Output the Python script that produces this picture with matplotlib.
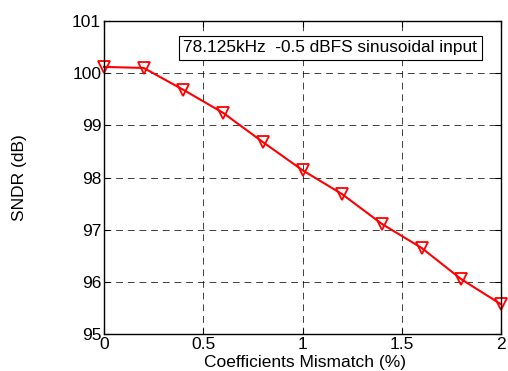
import matplotlib
matplotlib.use('Agg')
import matplotlib.pyplot as plt

plt.rcParams['font.family'] = ['Liberation Sans', 'DejaVu Sans']

# coefficient mismatch (%) and measured SNDR (dB)
mismatch = [0, 0.2, 0.4, 0.6, 0.8, 1.0, 1.2, 1.4, 1.6, 1.8, 2.0]
sndr = [100.12, 100.10, 99.68, 99.24, 98.68, 98.14, 97.68, 97.11, 96.65, 96.05, 95.57]

xticks = [0, 0.5, 1, 1.5, 2]
xticklabels = ['0', '0.5', '1', '1.5', '2']
yticks = [95, 96, 97, 98, 99, 100, 101]

fig = plt.figure(figsize=(5.08, 3.71), dpi=100)
ax = fig.add_axes([104/508, 1 - 334/371, (501 - 104)/508, (334 - 21)/371])

ax.plot(mismatch, sndr, '-', color='red', linewidth=1.5,
        marker='v', markersize=9, markerfacecolor='none',
        markeredgecolor='red', markeredgewidth=1.3, clip_on=False)

ax.set_xlim(0, 2)
ax.set_ylim(95, 101)
ax.set_xticks(xticks)
ax.set_xticklabels(xticklabels)
ax.set_yticks(yticks)
ax.tick_params(direction='in', top=True, right=True, labelsize=12.5, length=4, pad=2)
ax.grid(True, color='black', linestyle=(0, (7, 5)), linewidth=0.7, alpha=0.75)
for s in ax.spines.values():
    s.set_linewidth(1.0)

fig.text(305/508, 1 - 362/371, 'Coefficients Mismatch (%)', fontsize=12.5,
         ha='center', va='center')
fig.text(20/508, 1 - 178/371, 'SNDR (dB)', fontsize=12.5, rotation=90,
         ha='center', va='center')

ax.text(0.2, 0.914, '78.125kHz  -0.5 dBFS sinusoidal input', transform=ax.transAxes,
        fontsize=12.4, va='center', ha='left',
        bbox=dict(boxstyle='square,pad=0.25', facecolor='white', edgecolor='black', linewidth=0.8))

fig.savefig('out.png', dpi=100)
plt.close()
